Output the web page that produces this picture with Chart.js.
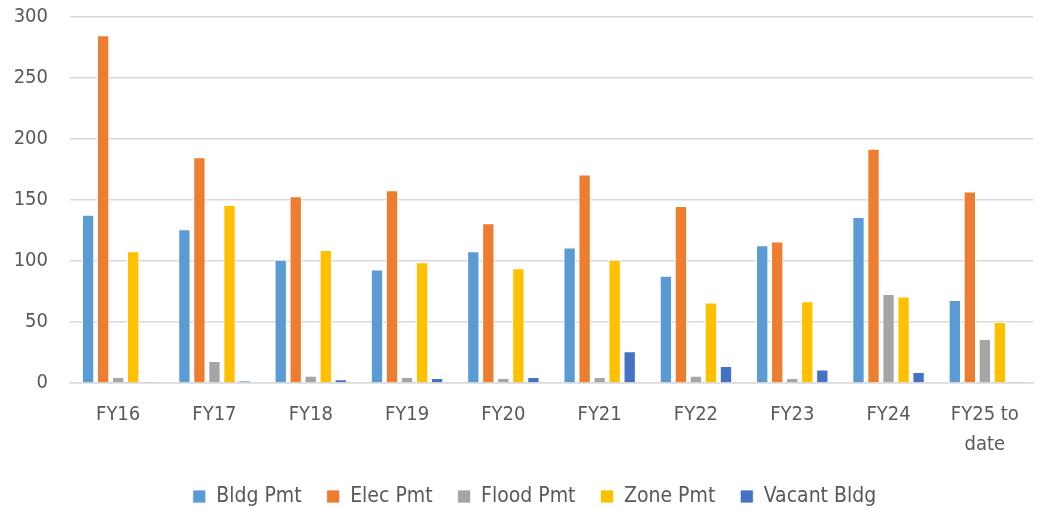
<!DOCTYPE html>
<html>
<head>
<meta charset="utf-8">
<script src="https://cdn.jsdelivr.net/npm/chart.js@4/dist/chart.umd.min.js"></script>
<style>
  html, body { margin: 0; padding: 0; background: #fff; }
  #wrap { width: 1038px; height: 509px; }
</style>
</head>
<body>
<div id="wrap"><canvas id="graf-permits"></canvas></div>
<script>
// Categorias (anos fiscais) e séries
const fiscalYears = ["FY16", "FY17", "FY18", "FY19", "FY20", "FY21", "FY22", "FY23", "FY24", ["FY25 to", "date"]];
const bldgPmt   = [138, 126, 101, 93, 108, 111, 88, 113, 136, 68];
const elecPmt   = [285, 185, 153, 158, 131, 171, 145, 116, 192, 157];
const floodPmt  = [5, 18, 6, 5, 4, 5, 6, 4, 73, 36];
const zonePmt   = [108, 146, 109, 99, 94, 101, 66, 67, 71, 50];
const vacantBldg = [1, 2, 3, 4, 5, 26, 14, 11, 9, 1];
const yTicks = [0, 50, 100, 150, 200, 250, 300];

const textColor = "#595959";
const gridColor = "#d9d9d9";
const fontFamily = "'DejaVu Sans Condensed', Lato, sans-serif";

function serie(label, data, color) {
  return {
    label: label,
    data: data,
    backgroundColor: color,
    borderColor: "#ffffff",
    borderWidth: { top: 1, left: 1, right: 1, bottom: 0 },
    categoryPercentage: 0.78,
    barPercentage: 0.82
  };
}

// empurra a legenda um pouco para a direita
const legendaDesloc = {
  id: "legendaDesloc",
  afterLayout(chart) {
    chart.legend.left += 18;
    chart.legend.right += 18;
  }
};

document.addEventListener("DOMContentLoaded", () => {
  new Chart(document.getElementById("graf-permits"), {
    type: "bar",
    data: {
      labels: fiscalYears,
      datasets: [
        serie("Bldg Pmt", bldgPmt, "#5B9BD5"),
        serie("Elec Pmt", elecPmt, "#ED7D31"),
        serie("Flood Pmt", floodPmt, "#A5A5A5"),
        serie("Zone Pmt", zonePmt, "#FFC000"),
        serie("Vacant Bldg", vacantBldg, "#4472C4")
      ]
    },
    plugins: [legendaDesloc],
    options: {
      responsive: true,
      maintainAspectRatio: false,
      animation: false,
      layout: { padding: { top: 17, right: 5, left: 0, bottom: -8 } },
      plugins: {
        tooltip: { enabled: false },
        legend: {
          position: "bottom",
          labels: {
            color: textColor,
            font: { family: fontFamily, size: 21 },
            boxWidth: 13,
            boxHeight: 13,
            padding: 25
          }
        }
      },
      scales: {
        x: {
          afterFit: (scale) => { scale.height = 78; scale.paddingLeft = 0; scale.paddingRight = 0; },
          grid: { display: false, drawTicks: false },
          border: { color: gridColor, width: 1.5 },
          ticks: {
            color: textColor,
            font: { family: fontFamily, size: 20, lineHeight: 1.5 },
            maxRotation: 0,
            autoSkip: false,
            padding: 17
          }
        },
        y: {
          min: 0,
          max: 300,
          afterFit: (scale) => { scale.width = 70; scale.paddingTop = 0; scale.paddingBottom = 0; },
          afterBuildTicks: (scale) => { scale.ticks = yTicks.map(v => ({ value: v })); },
          grid: { color: gridColor, lineWidth: 1.5, drawTicks: false },
          border: { display: false },
          ticks: {
            color: textColor,
            font: { family: fontFamily, size: 20 },
            padding: 22
          }
        }
      }
    }
  });
});
</script>
</body>
</html>
